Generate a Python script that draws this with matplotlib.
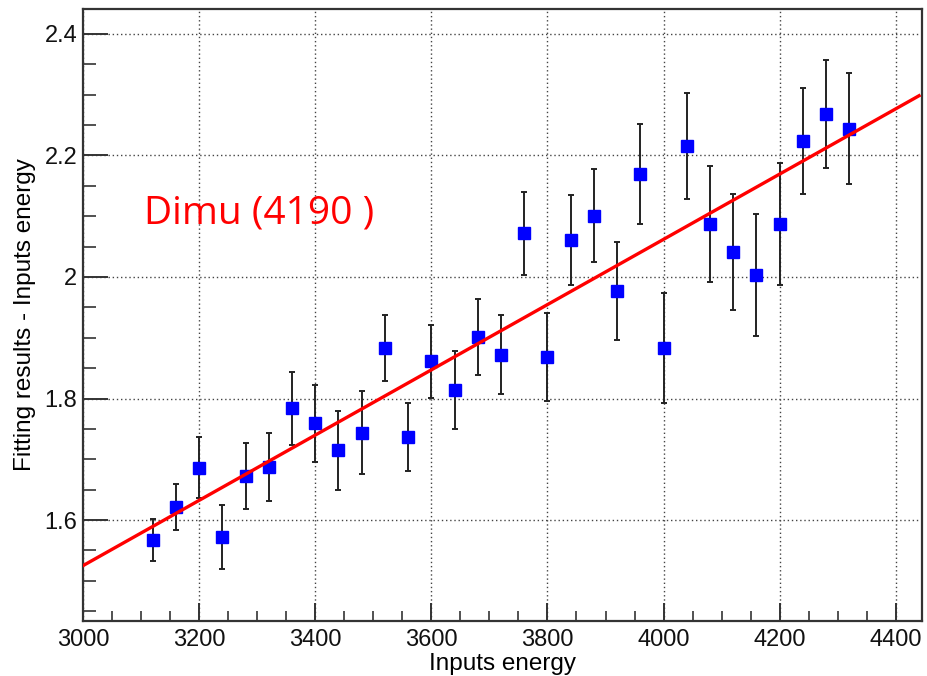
import matplotlib
matplotlib.use("Agg")
import matplotlib.pyplot as plt
from matplotlib.ticker import MultipleLocator, FuncFormatter
import numpy as np

# --- data ---
energy = [3120, 3160, 3200, 3240, 3280, 3320, 3360, 3400, 3440, 3480,
          3520, 3560, 3600, 3640, 3680, 3720, 3760, 3800, 3840, 3880,
          3920, 3960, 4000, 4040, 4080, 4120, 4160, 4200, 4240, 4280, 4320]
diff = [1.567, 1.622, 1.686, 1.572, 1.673, 1.688, 1.784, 1.759, 1.715, 1.744,
        1.883, 1.737, 1.861, 1.814, 1.901, 1.872, 2.072, 1.868, 2.061, 2.101,
        1.977, 2.169, 1.883, 2.216, 2.087, 2.041, 2.003, 2.087, 2.224, 2.268, 2.244]
diff_err = [0.035, 0.038, 0.050, 0.053, 0.054, 0.056, 0.060, 0.063, 0.065, 0.068,
            0.054, 0.056, 0.060, 0.064, 0.063, 0.065, 0.068, 0.072, 0.074, 0.077,
            0.081, 0.082, 0.090, 0.087, 0.095, 0.096, 0.100, 0.100, 0.087, 0.089, 0.091]

# linear fit parameters (p0 at x=3000, slope p1)
fit_x0 = 3000
fit_p0 = 1.525
fit_p1 = 0.000537
fit_range = [3000, 4440]

fig = plt.figure(figsize=(9.28, 6.76), dpi=100)
ax = fig.add_axes([0.0894, 0.0814, 0.9041, 0.9053])

ax.errorbar(energy, diff, yerr=diff_err, fmt='none', ecolor='#222222',
            elinewidth=1.4, capsize=2.2, capthick=1.4, zorder=2)
ax.plot(energy, diff, 's', color='#0000ff', markersize=8.5, zorder=3)

fx = np.array(fit_range, dtype=float)
ax.plot(fx, fit_p0 + fit_p1 * (fx - fit_x0), color='#ff0000', linewidth=2.4, zorder=4)

ax.set_xlim(3000, 4445)
ax.set_ylim(1.434, 2.441)

ax.xaxis.set_major_locator(MultipleLocator(200))
ax.xaxis.set_minor_locator(MultipleLocator(50))
ax.yaxis.set_major_locator(MultipleLocator(0.2))
ax.yaxis.set_minor_locator(MultipleLocator(0.05))
ax.yaxis.set_major_formatter(FuncFormatter(lambda v, p: f"{v:g}"))

ax.tick_params(which='both', direction='in', top=False, right=False,
               color='#333333', labelsize=17, labelcolor='#111111')
ax.tick_params(axis='y', which='major', length=18, width=1.4, pad=4)
ax.tick_params(axis='y', which='minor', length=9.5, width=1.2)
ax.tick_params(axis='x', which='major', length=13, width=1.4, pad=6)
ax.tick_params(axis='x', which='minor', length=7, width=1.2)
for lab in ax.get_xticklabels() + ax.get_yticklabels():
    lab.set_family('Liberation Sans')

ax.grid(True, which='major', linestyle=(0, (1, 2)), color='#444444', linewidth=1.0)
for s in ax.spines.values():
    s.set_linewidth(1.6)
    s.set_color('#333333')

ax.set_xlabel("Inputs energy", fontsize=17.5, family='Liberation Sans', labelpad=1)
ax.set_ylabel("Fitting results - Inputs energy", fontsize=17.5, family='Liberation Sans', labelpad=6)

ax.text(3105, 2.088, "Dimu (4190 )", color='#ff0000', fontsize=28,
        family='Open Sans', ha='left', va='baseline')

fig.savefig("out.png", dpi=100)
